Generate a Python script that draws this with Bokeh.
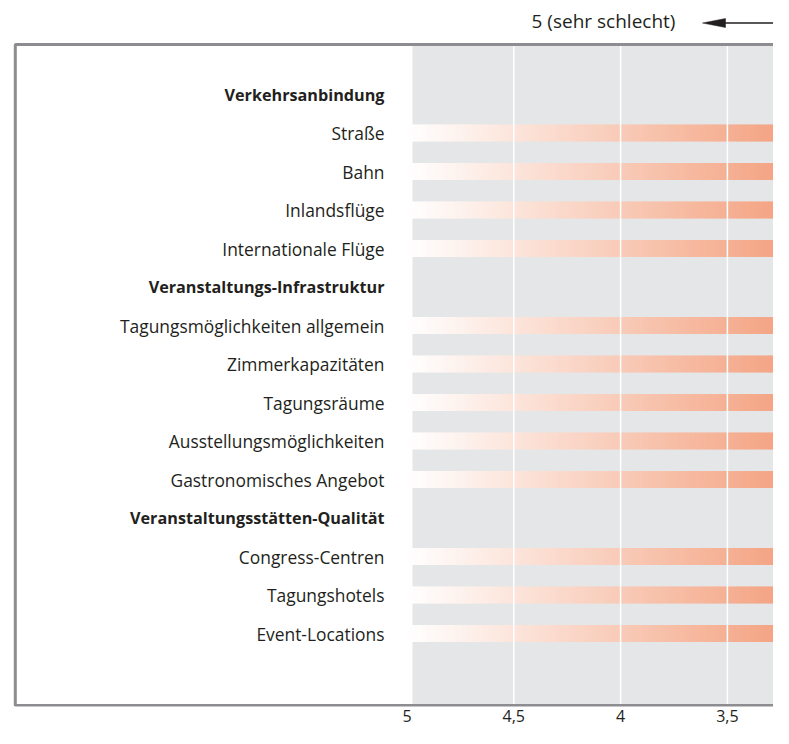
import numpy as np
from bokeh.plotting import figure
from bokeh.models import Range1d, FixedTicker, ColumnDataSource
from bokeh.core.properties import value
from bokeh.embed import file_html
from bokeh.resources import INLINE

# ---------------- data ----------------
categories = [
    "Verkehrsanbindung", "Straße", "Bahn", "Inlandsflüge", "Internationale Flüge",
    "Veranstaltungs-Infrastruktur", "Tagungsmöglichkeiten allgemein", "Zimmerkapazitäten",
    "Tagungsräume", "Ausstellungsmöglichkeiten", "Gastronomisches Angebot",
    "Veranstaltungsstätten-Qualität", "Congress-Centren", "Tagungshotels", "Event-Locations",
]
is_header = [True, False, False, False, False,
             True, False, False, False, False, False,
             True, False, False, False]
# ratings (1 = sehr gut ... 5 = sehr schlecht); bars run beyond the visible crop
scores = [None, 2.1, 2.2, 2.4, 2.3,
          None, 2.0, 2.1, 2.2, 2.6, 2.1,
          None, 2.3, 2.0, 2.2]
tick_values = [5, 4.5, 4, 3.5, 3]
tick_labels = ["5", "4,5", "4", "3,5", "3"]
scale_start = 5
arrow_label = "5 (sehr schlecht)"

# ---------------- layout helpers (picture pixels -> data) ----------------
W, H = 773, 728
AXIS_H = 22
FRAME_BOTTOM = H - AXIS_H
PX_AT_5 = 406.5
PX_PER_UNIT = 213.6
ROW0_PY = 94.0
ROW_STEP = 38.5


def xv(px):
    return scale_start - (px - PX_AT_5) / PX_PER_UNIT


def yv(py):
    return -(py - ROW0_PY) / ROW_STEP


FONT = "Open Sans"
TEXT_COLOR = "#231f20"

p = figure(
    width=W, height=H,
    x_range=Range1d(xv(0), xv(W)),
    y_range=Range1d(yv(FRAME_BOTTOM), yv(0)),
    output_backend="svg", toolbar_location=None,
    x_axis_location="below", y_axis_location=None,
    min_border=0, min_border_left=0, min_border_right=0,
    min_border_top=0, min_border_bottom=AXIS_H,
)
p.outline_line_color = None
p.background_fill_color = "white"
p.border_fill_color = "white"
p.grid.visible = False

# grey plotting area
p.quad(left=[xv(412)], right=[xv(900)], top=[yv(44)], bottom=[yv(705)],
       fill_color="#e5e6e8", line_color=None)

# gradient bars
C_END = np.array([242, 150, 112])
GRAD_SPAN = 2.0
STEP = 0.01
lefts, rights, tops, bottoms, colors = [], [], [], [], []
for i, s in enumerate(scores):
    if s is None:
        continue
    n = int(round((scale_start - s) / STEP))
    edges = np.linspace(scale_start, s, n + 1)
    for a, b in zip(edges[:-1], edges[1:]):
        m = 0.5 * (a + b)
        f = min(max((scale_start - m) / GRAD_SPAN, 0.0), 1.0)
        c = np.round(255 + f * (C_END - 255)).astype(int)
        lefts.append(a)
        rights.append(b - 0.004)
        tops.append(-i + 0.22)
        bottoms.append(-i - 0.22)
        colors.append("#%02x%02x%02x" % tuple(c))
p.quad(source=ColumnDataSource(dict(left=lefts, right=rights, top=tops,
                                    bottom=bottoms, color=colors)),
       left="left", right="right", top="top", bottom="bottom",
       fill_color="color", line_color=None)

# white grid lines on top of the bars
p.segment(x0=tick_values, x1=tick_values,
          y0=[yv(705)] * len(tick_values), y1=[yv(44)] * len(tick_values),
          line_color="white", line_width=1.5)

# frame box
p.quad(left=[xv(14.8)], right=[xv(900)], top=[yv(44)], bottom=[yv(705)],
       fill_color=None, line_color="#8d8d91", line_width=3)

# category labels
lab = ColumnDataSource(dict(
    x=[xv(384)] * len(categories),
    y=[-i for i in range(len(categories))],
    text=categories,
    style=["bold" if h else "normal" for h in is_header],
    size=["16.2px" if h else "17.4px" for h in is_header],
))
p.text(x="x", y="y", text="text", source=lab, text_align="right",
       text_baseline="middle", text_font=value(FONT), text_font_size="size",
       text_font_style="style", text_color=TEXT_COLOR)

# direction hint with arrow
p.text(x=[xv(603)], y=[yv(20)], text=[arrow_label], text_align="center",
       text_baseline="middle", text_font=value(FONT), text_font_size="19px",
       text_color=TEXT_COLOR)
p.segment(x0=[xv(720)], x1=[xv(800)], y0=[yv(22.5)], y1=[yv(22.5)],
          line_color=TEXT_COLOR, line_width=1.3)
p.patch(x=[xv(702), xv(725), xv(725)], y=[yv(22.5), yv(18), yv(27)],
        fill_color=TEXT_COLOR, line_color=TEXT_COLOR, line_width=0.5)

# x axis (tick labels only)
ax = p.xaxis[0]
ax.ticker = FixedTicker(ticks=tick_values)
ax.major_label_overrides = {v: l for v, l in zip(tick_values, tick_labels)}
ax.axis_line_color = None
ax.major_tick_line_color = None
ax.minor_tick_line_color = None
ax.major_tick_out = 0
ax.major_tick_in = 0
ax.major_label_standoff = 3
ax.major_label_text_font = FONT
ax.major_label_text_font_size = "16px"
ax.major_label_text_color = TEXT_COLOR

open("out.html", "w").write(file_html(p, INLINE))
